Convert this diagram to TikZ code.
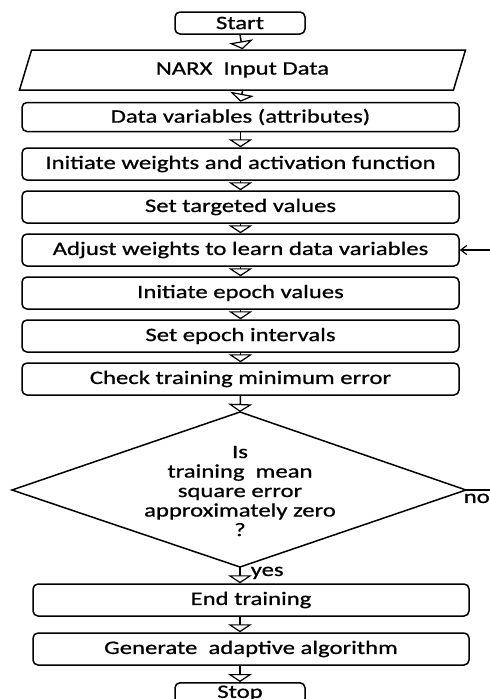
\documentclass[tikz,border=0pt]{standalone}
\usepackage{fontspec}
\setmainfont{Carlito}[FakeStretch=1.3,FakeBold=0.8]
\usetikzlibrary{arrows.meta,shapes.geometric}

\begin{document}
\begin{tikzpicture}[x=1pt,y=-1pt,line width=1.5pt,font=\fontsize{19}{19.5}\selectfont,
	box/.style={draw,rounded corners=5pt,minimum height=32pt,inner sep=0pt},
	wide/.style={box,minimum width=437pt},
	flow/.style={-{Triangle[open,width=24pt,length=8pt,line width=1.2pt]}}]
	\useasboundingbox (0,0) rectangle (490,699);
	\clip (0,0) rectangle (490,699);
	% boxes
	\node[box,minimum width=130pt,minimum height=22pt] (start) at (240,23) {Start};
	\node[draw,trapezium,trapezium left angle=72,trapezium right angle=108,trapezium stretches=true,
		minimum width=447pt,minimum height=40pt,inner sep=0pt] (narx) at (242.5,70) {NARX\ \ Input Data};
	\node[wide,minimum height=29pt] (data) at (240.5,117) {Data variables (attributes)};
	\node[wide] (initw) at (240.5,164) {Initiate weights and activation function};
	\node[wide] (target) at (240.5,207) {Set targeted values};
	\node[wide] (adjust) at (240.5,250) {Adjust weights to learn data variables};
	\node[wide] (inite) at (240.5,293) {Initiate epoch values};
	\node[wide] (interv) at (240.5,336) {Set epoch intervals};
	\node[wide] (check) at (240.5,379) {Check training minimum error};
	% decision
	\coordinate (dtop) at (240,412);
	\coordinate (dleft) at (12,490);
	\coordinate (dright) at (466,490);
	\coordinate (dbot) at (240,567);
	\draw (dtop) -- (dright) -- (dbot) -- (dleft) -- cycle;
	\node[align=center,inner sep=0pt] (dec) at (240,491) {Is\\training\ \ mean\\square error\\approximately zero\\?};
	\node[box,minimum width=436pt] (endt) at (251,600) {End training};
	\node[box,minimum width=436pt] (gen) at (251,649) {Generate\ \ adaptive algorithm};
	\node[box,minimum width=130pt,minimum height=21pt,anchor=north] (stop) at (240,682) {Stop};
	% arrows
	\foreach \a/\b in {start/narx,narx/data,data/initw,initw/target,target/adjust,adjust/inite,inite/interv,interv/check}
		\draw[flow] (\a.south) -- (\b.north);
	\draw[flow] (check.south) -- (dtop);
	\draw[flow] (dbot) -- (dbot |- endt.north);
	\node[anchor=north west,inner sep=0pt] (yes) at ([xshift=10pt,yshift=1pt]dbot) {yes};
	\draw[flow] (dbot |- endt.south) -- (dbot |- gen.north);
	\draw[flow] (dbot |- gen.south) -- (stop.north);
	% loop back
	\coordinate (noend) at (495,490);
	\coordinate (loopin) at (495,250);
	\draw (dright) -- (noend);
	\node[anchor=north west,inner sep=0pt] (no) at ([xshift=-3pt,yshift=-3pt]dright) {no};
	\draw[-{Straight Barb[length=6pt,width=9pt]},line width=1.2pt] (loopin) -- (adjust.east);
\end{tikzpicture}
\end{document}
